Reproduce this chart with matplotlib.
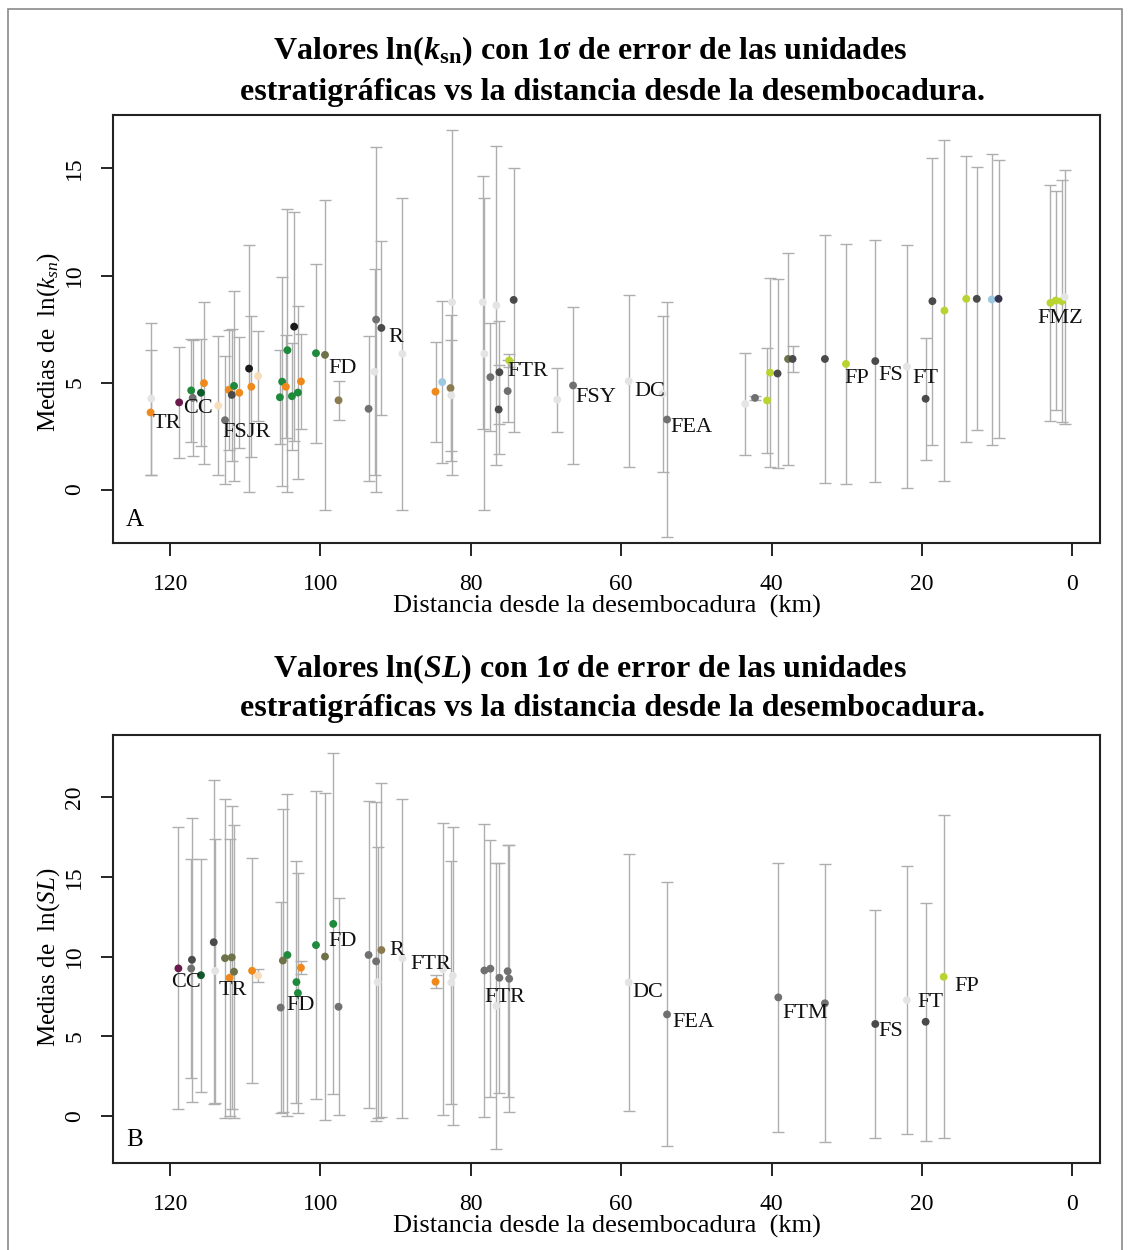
import matplotlib
matplotlib.use("Agg")
import matplotlib.pyplot as plt
from matplotlib.patches import Rectangle

plt.rcParams['font.family'] = ['Liberation Serif', 'DejaVu Serif']
plt.rcParams['mathtext.fontset'] = 'custom'
plt.rcParams['mathtext.rm'] = 'Liberation Serif'
plt.rcParams['mathtext.it'] = 'Liberation Serif:italic'
plt.rcParams['mathtext.bf'] = 'Liberation Serif:bold'
plt.rcParams['mathtext.bfit'] = 'Liberation Serif:bold:italic'

# color de cada unidad
unit_colors = {
    'or': '#F0891C', 'pu': '#6A1B4D', 'gr': '#1F8A3B', 'dg': '#0E5A2B',
    'gy': '#707070', 'dk': '#4A4A4A', 'bk': '#1A1A1A', 'yg': '#B8D430',
    'lb': '#9CC8E0', 'nv': '#34344F', 'ol': '#6F7149', 'tn': '#8A7A50',
    'fo': '#F8DDBB', 'fa': '#E4E4E4',
}

# ---- Panel A: ln(ksn) ----
dist_a = [122.6, 122.5, 118.8, 117.2, 117.0, 115.9, 115.5, 113.6, 112.7, 112.2,
          111.8, 111.5, 110.8, 109.5, 109.2, 108.3, 105.4, 105.1, 104.6, 104.4,
          103.5, 103.8, 103.0, 102.6, 100.6, 99.4, 97.6, 93.6, 92.6, 91.9,
          92.8, 89.1, 84.7, 83.8, 82.7, 82.5, 82.6, 78.2, 78.4, 77.4,
          76.6, 76.2, 76.3, 74.9, 75.1, 74.3, 68.5, 66.4, 59.0, 53.9,
          54.5, 43.5, 42.2, 40.6, 40.2, 39.2, 37.8, 37.2, 32.9, 30.1,
          26.2, 22.0, 19.5, 18.6, 17.0, 14.1, 12.7, 10.7, 9.8, 2.9,
          2.2, 1.4, 1.0]
mean_a = [3.6, 4.25, 4.07, 4.63, 4.28, 4.52, 4.97, 3.92, 3.24, 4.66,
          4.42, 4.84, 4.52, 5.65, 4.8, 5.3, 4.31, 5.04, 4.8, 6.51,
          7.61, 4.36, 4.53, 5.05, 6.37, 6.29, 4.17, 3.77, 7.94, 7.55,
          5.5, 6.34, 4.57, 5.02, 4.74, 8.75, 4.4, 6.34, 8.75, 5.25,
          8.6, 5.48, 3.74, 6.03, 4.6, 8.86, 4.2, 4.86, 5.06, 3.27,
          4.47, 4.0, 4.28, 4.16, 5.46, 5.42, 6.1, 6.1, 6.1, 5.87,
          6.0, 5.74, 4.24, 8.8, 8.36, 8.91, 8.91, 8.88, 8.91, 8.72,
          8.83, 8.8, 9.0]
sd_a = [2.9, 3.55, 2.6, 2.4, 2.7, 2.5, 3.78, 3.25, 3.0, 2.8,
        3.1, 4.43, 2.6, 5.77, 3.3, 2.1, 2.2, 4.88, 2.4, 6.62,
        5.35, 2.5, 4.03, 2.2, 4.18, 7.23, 0.91, 3.39, 8.06, 4.05,
        4.8, 7.28, 2.34, 3.8, 3.42, 8.05, 2.6, 7.3, 5.9, 2.53,
        7.45, 2.4, 2.1, 0.3, 1.45, 6.15, 1.5, 3.68, 4.02, 5.5,
        3.66, 2.4, 0.1, 2.45, 4.4, 4.43, 4.95, 0.62, 5.8, 5.6,
        5.65, 5.68, 2.86, 6.7, 7.96, 6.67, 6.15, 6.8, 6.5, 5.53,
        5.1, 5.66, 5.95]
unit_a = ['or', 'fa', 'pu', 'gr', 'gy', 'dg', 'or', 'fo', 'gy', 'or',
          'dk', 'gr', 'or', 'bk', 'or', 'fo', 'gr', 'gr', 'or', 'gr',
          'bk', 'gr', 'gr', 'or', 'gr', 'ol', 'tn', 'gy', 'gy', 'dk',
          'fa', 'fa', 'or', 'lb', 'tn', 'fa', 'fa', 'fa', 'fa', 'gy',
          'fa', 'dk', 'dk', 'yg', 'gy', 'dk', 'fa', 'gy', 'fa', 'gy',
          'fa', 'fa', 'gy', 'yg', 'yg', 'dk', 'ol', 'dk', 'dk', 'yg',
          'dk', 'fa', 'dk', 'dk', 'yg', 'yg', 'dk', 'lb', 'nv', 'yg',
          'yg', 'yg', 'fa']
labels_a = ['TR', 'CC', 'FSJR', 'FD', 'R', 'FTR', 'FSY', 'DC', 'FEA', 'FP', 'FS', 'FT', 'FMZ']
lab_x_a = [122.4, 118.3, 113.1, 99.0, 91.0, 75.2, 66.1, 58.3, 53.5, 30.3, 25.8, 21.2, 4.7]
lab_y_a = [3.08, 3.79, 2.66, 5.65, 7.1, 5.51, 4.3, 4.58, 2.9, 5.19, 5.33, 5.19, 8.0]

# ---- Panel B: ln(SL) ----
dist_b = [118.9, 117.1, 117.2, 115.9, 114.2, 114.0, 112.7, 112.1, 111.8, 111.5,
          109.1, 108.3, 105.0, 105.3, 104.4, 103.2, 103.0, 102.6, 100.6, 99.4,
          98.3, 97.6, 93.6, 92.6, 92.4, 91.9, 89.1, 84.7, 83.7, 82.4,
          82.6, 78.2, 77.4, 76.2, 76.6, 75.1, 74.9, 59.0, 53.9, 39.1,
          32.9, 26.2, 22.0, 19.5, 17.1]
mean_b = [9.26, 9.8, 9.25, 8.83, 10.9, 9.1, 9.9, 8.67, 9.95, 9.05,
          9.11, 8.8, 9.75, 6.8, 10.1, 8.4, 7.71, 9.3, 10.72, 10.0,
          12.05, 6.85, 10.1, 9.7, 8.4, 10.41, 9.88, 8.42, 9.2, 8.8,
          8.37, 9.13, 9.24, 8.67, 6.9, 9.08, 8.61, 8.38, 6.37, 7.44,
          7.07, 5.77, 7.27, 5.91, 8.73]
sd_b = [8.84, 8.9, 6.85, 7.3, 10.17, 8.3, 10.0, 8.7, 9.5, 9.2,
        7.05, 0.4, 9.5, 6.6, 10.1, 7.6, 7.55, 0.4, 9.68, 10.26,
        10.7, 6.8, 9.63, 10.0, 8.5, 10.45, 9.98, 0.4, 9.17, 9.35,
        7.6, 9.17, 8.07, 7.2, 9.0, 7.9, 8.38, 8.05, 8.28, 8.42,
        8.73, 7.18, 8.42, 7.45, 10.13]
unit_b = ['pu', 'dk', 'gy', 'dg', 'dk', 'fa', 'ol', 'or', 'ol', 'ol',
          'or', 'fo', 'ol', 'gy', 'gr', 'gr', 'gr', 'or', 'gr', 'ol',
          'gr', 'gy', 'gy', 'gy', 'fa', 'tn', 'fa', 'or', 'fa', 'fa',
          'fa', 'gy', 'gy', 'gy', 'fa', 'gy', 'gy', 'fa', 'gy', 'gy',
          'gy', 'dk', 'fa', 'dk', 'yg']
labels_b = ['CC', 'TR', 'FD', 'FD', 'R', 'FTR', 'FTR', 'DC', 'FEA', 'FTM', 'FS', 'FT', 'FP']
lab_x_b = [119.9, 113.5, 104.6, 99.0, 90.8, 88.1, 78.2, 58.5, 53.2, 38.5, 25.8, 20.6, 15.7]
lab_y_b = [8.4, 7.9, 6.96, 10.97, 10.4, 9.53, 7.46, 7.77, 5.89, 6.4, 5.27, 7.15, 8.15]

x_ticks = [120, 100, 80, 60, 40, 20, 0]


def draw_panel(ax, dist, mean, sd, unit, labels, lx, ly, letter, ylab, yticks, ylim, ylab_pos):
    ax.errorbar(dist, mean, yerr=sd, fmt='none', ecolor='#AEAEAE',
                elinewidth=1.0, capsize=4.5, capthick=1.0, zorder=1)
    ax.scatter(dist, mean, s=32, c=[unit_colors[u] for u in unit],
               edgecolors='none', zorder=2)
    for t, x, y in zip(labels, lx, ly):
        ax.text(x, y, t, fontsize=16, ha='left', va='center', color='#111111', zorder=3)
    ax.set_xlim(127.6, -3.7)
    ax.set_ylim(*ylim)
    ax.set_xticks(x_ticks)
    ax.set_yticks(yticks)
    ax.tick_params(axis='both', direction='out', length=9, width=1.2,
                   labelsize=17, pad=11)
    ax.tick_params(axis='x', pad=13)
    for lab in ax.get_yticklabels():
        lab.set_rotation(90)
        lab.set_va('center')
    for s in ax.spines.values():
        s.set_linewidth(1.5)
        s.set_color('#222222')
    ax.text(0.013, 0.028, letter, transform=ax.transAxes, fontsize=18,
            ha='left', va='bottom')
    ax.set_xlabel('Distancia desde la desembocadura  (km)', fontsize=19, labelpad=0)
    ax.set_ylabel(ylab, fontsize=18, labelpad=4)
    ax.yaxis.set_label_coords(-0.052, ylab_pos)


fig = plt.figure(figsize=(11.3, 12.5), dpi=100)
ax1 = fig.add_axes([0.1, 0.5656, 0.8735, 0.3424])
ax2 = fig.add_axes([0.1, 0.0696, 0.8735, 0.3424])

draw_panel(ax1, dist_a, mean_a, sd_a, unit_a, labels_a, lab_x_a, lab_y_a, 'A',
           r'Medias de  ln($k_{sn}$)', [0, 5, 10, 15], (-2.5, 17.5), 0.47)
draw_panel(ax2, dist_b, mean_b, sd_b, unit_b, labels_b, lab_x_b, lab_y_b, 'B',
           r'Medias de  ln($SL$)', [0, 5, 10, 15, 20], (-2.95, 23.9), 0.48)

fig.text(0.522, 0.959, r'Valores ln($\mathbfit{k}_{\mathbf{sn}}$) con 1σ de error de las unidades',
         fontsize=23, fontweight='bold', ha='center', va='center')
fig.text(0.542, 0.926, 'estratigráficas vs la distancia desde la desembocadura.',
         fontsize=23, fontweight='bold', ha='center', va='center')
fig.text(0.522, 0.465, r'Valores ln($\mathbfit{SL}$) con 1σ de error de las unidades',
         fontsize=23, fontweight='bold', ha='center', va='center')
fig.text(0.542, 0.433, 'estratigráficas vs la distancia desde la desembocadura.',
         fontsize=23, fontweight='bold', ha='center', va='center')

fig.add_artist(Rectangle((0.007, -0.01), 0.986, 1.003, transform=fig.transFigure,
                         fill=False, edgecolor='#8A8A8A', linewidth=1.2))

fig.savefig('out.png', dpi=100)
